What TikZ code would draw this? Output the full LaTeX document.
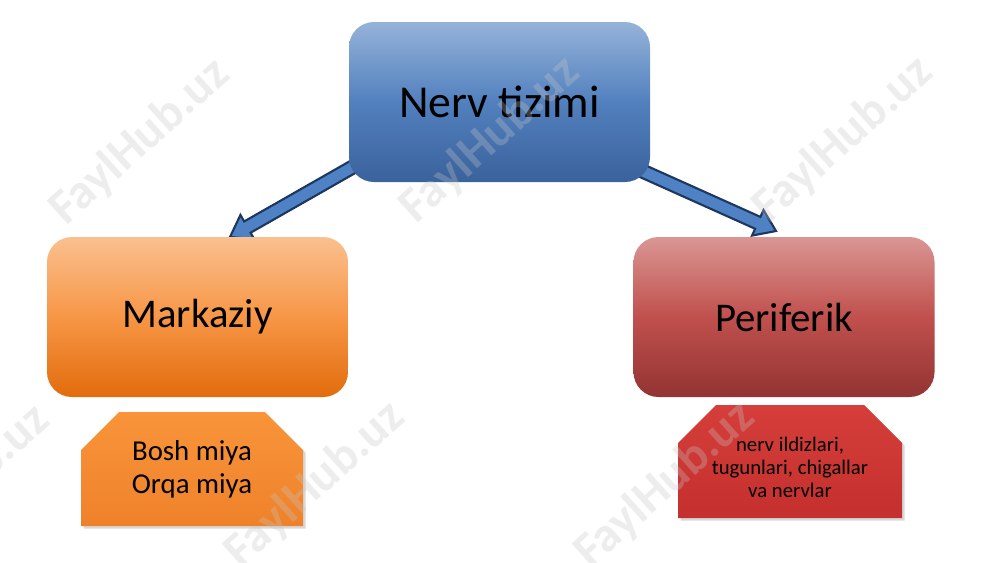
\documentclass[tikz,border=0pt]{standalone}
\usepackage{fontspec}
\setmainfont{Carlito}
\usetikzlibrary{calc,shapes.misc,shadows}

\definecolor{nervtop}{RGB}{149,179,217}
\definecolor{nervmid}{RGB}{82,128,190}
\definecolor{nervbot}{RGB}{58,98,156}
\definecolor{orangetop}{RGB}{250,192,143}
\definecolor{orangemid}{RGB}{247,150,70}
\definecolor{orangebot}{RGB}{226,108,12}
\definecolor{redtop}{RGB}{218,150,148}
\definecolor{redmid}{RGB}{192,80,77}
\definecolor{redbot}{RGB}{146,52,50}
\definecolor{boshtop}{RGB}{249,148,58}
\definecolor{boshbot}{RGB}{238,130,42}
\definecolor{nervetop}{RGB}{213,62,58}
\definecolor{nervebot}{RGB}{196,48,46}
\definecolor{arrowfill}{RGB}{78,130,196}
\definecolor{arrowline}{RGB}{30,55,95}

\tikzset{
  bigbox/.style={rounded corners=0.25cm, minimum width=3.01cm, minimum height=1.6cm,
                 inner sep=0pt, align=center, font=\fontsize{11.6}{13}\selectfont},
  subbox/.style={chamfered rectangle, chamfered rectangle corners={north west,north east},
                 chamfered rectangle sep=0.19cm, minimum width=2.22cm, minimum height=1.14cm,
                 inner sep=0pt, align=center,
                 drop shadow={shadow xshift=0.025cm, shadow yshift=-0.025cm, opacity=0.3}},
  arrowbody/.style={fill=arrowfill, draw=arrowline, line width=0.6pt, line join=miter},
  watermark/.style={rotate=42, text=gray!45, opacity=0.3,
                    font=\fontsize{14}{16}\selectfont\bfseries}
}

% block arrow from tail #1 to tip #2
\newcommand{\blockarrow}[2]{%
  \coordinate (hb) at ($(#2)!0.2cm!(#1)$);
  \draw[arrowbody] ($(#1)!0.065cm!90:(#2)$) -- ($(hb)!0.065cm!90:(#2)$)
    -- ($(hb)!0.14cm!90:(#2)$) -- (#2) -- ($(hb)!0.14cm!-90:(#2)$)
    -- ($(hb)!0.065cm!-90:(#2)$) -- ($(#1)!0.065cm!-90:(#2)$) -- cycle;
}

\begin{document}
\begin{tikzpicture}
\useasboundingbox[fill=white] (0,0) rectangle (10,-5.62);

% arrows first, the top box covers their tails
\path (4.995,-1.02) coordinate (nervc);
\coordinate (ltail) at ($(nervc)+(-0.995,-0.38)$);
\coordinate (rtail) at ($(nervc)+(1.005,-0.50)$);
\coordinate (ltip) at (2.30,-2.37);
\coordinate (rtip) at (7.76,-2.31);
\blockarrow{ltail}{ltip}
\blockarrow{rtail}{rtip}

\node[bigbox, top color=nervtop, bottom color=nervbot, middle color=nervmid,
      font=\fontsize{13}{15}\selectfont] (nerv) at (nervc) {Nerv tizimi};
\node[bigbox, top color=orangetop, bottom color=orangebot, middle color=orangemid]
      (mark) at (1.975,-3.17) {Markaziy};
\node[bigbox, top color=redtop, bottom color=redbot, middle color=redmid]
      (peri) at (7.84,-3.17) {Periferik};

\node[subbox, top color=boshtop, bottom color=boshbot,
      font=\fontsize{8.2}{9.3}\selectfont] (bosh) at (1.92,-4.69) {Bosh miya\\Orqa miya};
\node[subbox, top color=nervetop, bottom color=nervebot,
      minimum width=2.24cm, minimum height=1.13cm,
      font=\fontsize{5.9}{6.6}\selectfont] (nerve) at (7.90,-4.615)
      {\\[1pt]nerv ildizlari,\\tugunlari, chigallar\\va nervlar};

% watermark
\begin{scope}
\clip (0,0) rectangle (10,-5.62);
\node[watermark] (wm1) at (1.40,-1.42) {FaylHub.uz};
\node[watermark] (wm2) at (4.90,-1.40) {FaylHub.uz};
\node[watermark] (wm3) at (8.43,-1.40) {FaylHub.uz};
\node[watermark] (wm4) at (-0.40,-4.88) {FaylHub.uz};
\node[watermark] (wm5) at (3.15,-4.85) {FaylHub.uz};
\node[watermark] (wm6) at (6.65,-4.85) {FaylHub.uz};
\end{scope}
\end{tikzpicture}
\end{document}
